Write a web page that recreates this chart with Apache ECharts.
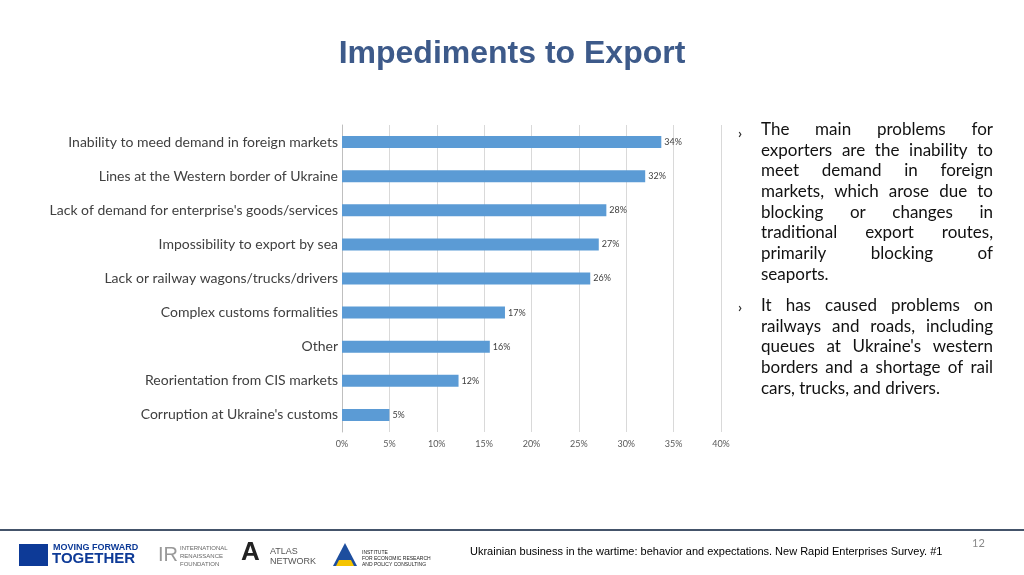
<!DOCTYPE html>
<html><head><meta charset="utf-8">
<script src="https://cdn.jsdelivr.net/npm/echarts@6/dist/echarts.min.js"></script>
<style>html,body{margin:0;padding:0;background:#fff}#c{width:1024px;height:575px}</style>
</head><body><div id="c"></div>
<script>
const categories = ["Corruption at Ukraine's customs","Reorientation from CIS markets","Other","Complex customs formalities","Lack or railway wagons/trucks/drivers","Impossibility to export by sea","Lack of demand for enterprise's goods/services","Lines at the Western border of Ukraine","Inability to meed demand in foreign markets"];
const values = [5.0, 12.3, 15.6, 17.2, 26.2, 27.1, 27.9, 32.0, 33.7];
const labels = ["5%","12%","16%","17%","26%","27%","28%","32%","34%"];
const bullet1 = ["The main problems for","exporters are the inability to","meet demand in foreign","markets, which arose due to","blocking or changes in","traditional export routes,","primarily blocking of","seaports."];
const bullet2 = ["It has caused problems on","railways and roads, including","queues at Ukraine's western","borders and a shortage of rail","cars, trucks, and drivers."];

const chart = echarts.init(document.getElementById('c'));
const g = [];
const tf = 'Lato, "Noto Sans", sans-serif';
const font = '17px '+tf;
const ctx = document.createElement('canvas').getContext('2d');
ctx.font = font;
function lines(arr, y0){
  const X0 = 761, W = 232;
  arr.forEach((t,i)=>{
    const y = y0+i*20.7;
    if (i === arr.length-1) { g.push({type:'text',left:X0,top:y,style:{text:t,font:font,fill:'#111'}}); return; }
    const ws = t.split(' ');
    const widths = ws.map(w=>ctx.measureText(w).width);
    const tot = widths.reduce((a,b)=>a+b,0);
    const gap = (W-tot)/(ws.length-1);
    let x = X0;
    ws.forEach((w,j)=>{ g.push({type:'text',x:x,y:y,style:{text:w,font:font,fill:'#111'}}); x += widths[j]+gap; });
  });
}
g.push({type:'text',left:738,top:126,style:{text:'›',font:'bold 14px '+tf,fill:'#333'}});
lines(bullet1,121);
g.push({type:'text',left:738,top:300,style:{text:'›',font:'bold 14px '+tf,fill:'#333'}});
lines(bullet2,297);
g.push({type:'rect',shape:{x:0,y:529,width:1024,height:2},style:{fill:'#44546a'}});
g.push({type:'text',left:470,top:546,style:{text:'Ukrainian business in the wartime: behavior and expectations. New Rapid Enterprises Survey. #1',font:'11px "Liberation Sans", Arial, sans-serif',fill:'#000'}});
g.push({type:'text',left:972,top:538,style:{text:'12',font:'11px '+tf,fill:'#8a8a8a'}});
g.push({type:'rect',shape:{x:19,y:544,width:29,height:22},style:{fill:'#0d3a97'}});
g.push({type:'text',left:53,top:543,style:{text:'MOVING FORWARD',font:'bold 9px "Liberation Sans", sans-serif',fill:'#0d3a97'}});
g.push({type:'text',left:52,top:551,style:{text:'TOGETHER',font:'bold 15px "Liberation Sans", sans-serif',fill:'#0d3a97'}});
g.push({type:'text',left:158,top:545,style:{text:'IR',font:'20px "Liberation Sans", sans-serif',fill:'#999'}});
g.push({type:'text',left:180,top:544,style:{text:'INTERNATIONAL\nRENAISSANCE\nFOUNDATION',font:'6px "Liberation Sans", sans-serif',fill:'#666',lineHeight:8}});
g.push({type:'text',left:241,top:540,style:{text:'A',font:'bold 26px "Liberation Sans", sans-serif',fill:'#222'}});
g.push({type:'text',left:270,top:547,style:{text:'ATLAS\nNETWORK',font:'9px "Liberation Sans", sans-serif',fill:'#555',lineHeight:10}});
g.push({type:'polygon',shape:{points:[[345,543],[333,566],[357,566]]},style:{fill:'#1d4e9e'}});
g.push({type:'polygon',shape:{points:[[339,560],[351,560],[354,566],[336,566]]},style:{fill:'#f5c400'}});
g.push({type:'text',left:362,top:550,style:{text:'INSTITUTE\nFOR ECONOMIC RESEARCH\nAND POLICY CONSULTING',font:'5px "Liberation Sans", sans-serif',fill:'#222',lineHeight:6}});

chart.setOption({
  animation:false,
  title:{text:'Impediments to Export',left:'center',top:33,textStyle:{fontFamily:'"Liberation Sans", Arial, sans-serif',fontSize:32,fontWeight:'bold',color:'#3d5a8a'}},
  grid:{left:342,right:303,top:125,bottom:143,containLabel:false},
  xAxis:{type:'value',min:0,max:40,interval:5,
    axisLabel:{formatter:v=>v+'%',color:'#595959',fontSize:9,fontFamily:tf,margin:8},
    splitLine:{lineStyle:{color:'#d9d9d9'}},axisLine:{show:false},axisTick:{show:false}},
  yAxis:{type:'category',data:categories,
    axisLabel:{color:'#404040',fontSize:14,fontFamily:tf,margin:4},
    axisLine:{lineStyle:{color:'#bfbfbf'}},axisTick:{show:false}},
  series:[{type:'bar',data:values,barWidth:12,
    itemStyle:{color:'#5b9bd5'},
    label:{show:true,position:'right',distance:3,formatter:p=>labels[p.dataIndex],color:'#404040',fontSize:9,fontFamily:tf}}],
  graphic:g
});
</script></body></html>
